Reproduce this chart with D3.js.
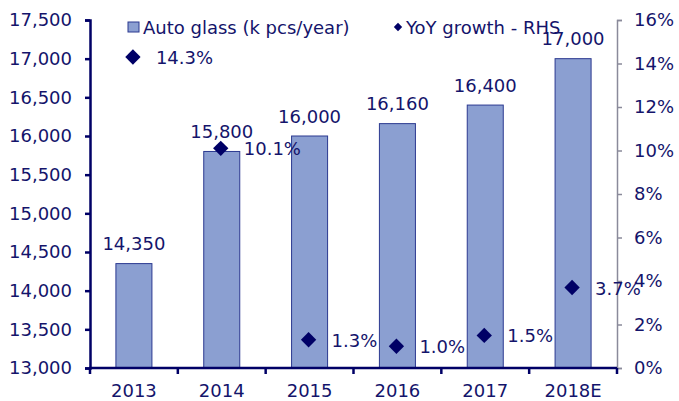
<!DOCTYPE html>
<html>
<head>
<meta charset="utf-8">
<script src="https://cdn.jsdelivr.net/npm/d3@7"></script>
<style>
  body { margin: 0; background: #fff; }
  svg text { font-family: "DejaVu Sans", Verdana, sans-serif; fill: #14146b; }
</style>
</head>
<body>
<div id="chart"></div>
<script>
// data
var years = ["2013", "2014", "2015", "2016", "2017", "2018E"]
var autoGlass = [14350, 15800, 16000, 16160, 16400, 17000]
var yoyGrowth = [14.3, 10.1, 1.3, 1.0, 1.5, 3.7]
var leftTicks = [13000, 13500, 14000, 14500, 15000, 15500, 16000, 16500, 17000, 17500]
var rightTicks = [0, 2, 4, 6, 8, 10, 12, 14, 16]

const W = 679, H = 401
const plotL = 90, plotR = 617, plotT = 20, plotB = 368
const navy = "#000066"
const textCol = "#14146b"
const fs = 18

const svg = d3.select("div#chart").append("svg")
    .attr("width", W)
    .attr("height", H)

const x = d3.scaleBand().domain(years).range([plotL, plotR]).paddingInner(0.59).paddingOuter(0.295)
const xb = d3.scaleBand().domain(years).range([plotL, plotR])
const y = d3.scaleLinear().domain([13000, 17500]).range([plotB, plotT])
const y2 = d3.scaleLinear().domain([0, 16]).range([plotB, plotT])

// bars
svg.append("g").selectAll("rect")
    .data(autoGlass)
    .enter()
    .append("rect")
    .attr("x", (d, i) => x(years[i]))
    .attr("width", x.bandwidth())
    .attr("y", d => y(d))
    .attr("height", d => plotB - y(d))
    .attr("fill", "#8b9fd1")
    .attr("stroke", "#2b3990")
    .attr("stroke-width", 1)

// bar labels
svg.append("g").selectAll("text")
    .data(autoGlass)
    .enter()
    .append("text")
    .attr("x", (d, i) => xb(years[i]) + xb.bandwidth() / 2)
    .attr("y", d => y(d) - 13.5)
    .attr("text-anchor", "middle")
    .style("font-size", fs + "px")
    .text(d => d3.format(",")(d))

// left axis
const yAxis = d3.axisLeft(y).tickValues(leftTicks).tickFormat(d3.format(",")).tickSize(5).tickPadding(13)
const gy = svg.append("g").attr("transform", "translate(" + plotL + ",0)").call(yAxis)
gy.selectAll("path, line").attr("stroke", navy).attr("stroke-width", 2.5)
gy.selectAll("text").style("font-size", fs + "px").attr("fill", textCol).style("font-family", '"DejaVu Sans", Verdana, sans-serif')

// right axis
const yAxis2 = d3.axisRight(y2).tickValues(rightTicks).tickFormat(d => d + "%").tickSize(5).tickPadding(12)
const gy2 = svg.append("g").attr("transform", "translate(" + plotR + ",0)").call(yAxis2)
gy2.selectAll("path, line").attr("stroke", "#8a8a9a").attr("stroke-width", 1.5)
gy2.selectAll("text").style("font-size", fs + "px").attr("fill", textCol).style("font-family", '"DejaVu Sans", Verdana, sans-serif')

// bottom axis
const xAxis = d3.axisBottom(xb).tickSize(0).tickPadding(16)
const gx = svg.append("g").attr("transform", "translate(0," + plotB + ")").call(xAxis)
gx.select("path").remove()
gx.selectAll("text").style("font-size", fs + "px").attr("fill", textCol).style("font-family", '"DejaVu Sans", Verdana, sans-serif')
svg.append("line")
    .attr("x1", plotL - 1).attr("x2", plotR)
    .attr("y1", plotB).attr("y2", plotB)
    .attr("stroke", navy).attr("stroke-width", 2.5)
// ticks between categories
svg.append("g").selectAll("line")
    .data(years.concat(["end"]))
    .enter()
    .append("line")
    .attr("x1", (d, i) => plotL + i * xb.bandwidth())
    .attr("x2", (d, i) => plotL + i * xb.bandwidth())
    .attr("y1", plotB)
    .attr("y2", plotB + 6)
    .attr("stroke", navy).attr("stroke-width", 2.5)

// diamonds
const diamond = d3.symbol().type(d3.symbolDiamond2).size(150)
svg.append("g").selectAll("path")
    .data(yoyGrowth)
    .enter()
    .append("path")
    .attr("d", diamond)
    .attr("transform", (d, i) => "translate(" + (xb(years[i]) + xb.bandwidth() / 2 - 1) + "," + y2(d) + ")")
    .attr("fill", navy)

svg.append("g").selectAll("text")
    .data(yoyGrowth)
    .enter()
    .append("text")
    .attr("x", (d, i) => xb(years[i]) + xb.bandwidth() / 2 + 22)
    .attr("y", d => y2(d) + 7)
    .style("font-size", fs + "px")
    .text(d => d.toFixed(1) + "%")

// legend
const lg = svg.append("g")
lg.append("rect")
    .attr("x", 128).attr("y", 22).attr("width", 11).attr("height", 10)
    .attr("fill", "#8b9fd1").attr("stroke", "#2b3990")
lg.append("text").attr("x", 143).attr("y", 34).style("font-size", fs + "px").text("Auto glass (k pcs/year)")
lg.append("path")
    .attr("d", d3.symbol().type(d3.symbolDiamond2).size(45))
    .attr("transform", "translate(398,27)")
    .attr("fill", navy)
lg.append("text").attr("x", 406).attr("y", 34).style("font-size", fs + "px").text("YoY growth - RHS")
</script>
</body>
</html>
